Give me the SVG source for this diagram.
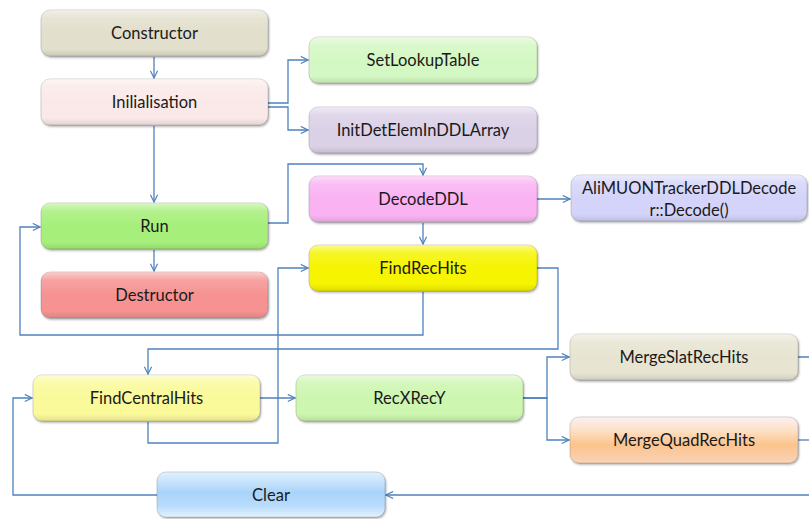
<svg xmlns="http://www.w3.org/2000/svg" width="809" height="519" viewBox="0 0 809 519">
  <style>
    .box { stroke: #000; stroke-opacity: 0.14; stroke-width: 1; filter: url(#shadow); }
    .gloss { fill: url(#gloss); stroke: none; }
    .label { font-family: Lato, "Open Sans", "Liberation Sans", sans-serif; font-size: 16.5px; fill: #1a1a1a; text-anchor: middle; dominant-baseline: central; }
    .wire { fill: none; stroke: #4f81bd; stroke-width: 1.3; }
    .arrow { marker-end: url(#head); }
  </style>
  <defs>
    <filter id="shadow" x="-5%" y="-15%" width="112%" height="140%">
      <feDropShadow dx="1" dy="1.5" stdDeviation="1.2" flood-color="#000" flood-opacity="0.35"/>
    </filter>
    <linearGradient id="gloss" x1="0" y1="0" x2="0" y2="1">
      <stop offset="0" stop-color="#fff" stop-opacity="0.55"/>
      <stop offset="0.18" stop-color="#fff" stop-opacity="0.15"/>
      <stop offset="0.5" stop-color="#fff" stop-opacity="0"/>
      <stop offset="0.85" stop-color="#000" stop-opacity="0"/>
      <stop offset="1" stop-color="#000" stop-opacity="0.1"/>
    </linearGradient>
    <linearGradient id="quadFill" x1="0" y1="0" x2="0" y2="1">
      <stop offset="0" stop-color="#fdf0f2"/>
      <stop offset="0.3" stop-color="#fde0c4"/>
      <stop offset="0.6" stop-color="#fcc48e"/>
      <stop offset="1" stop-color="#f9d2b6"/>
    </linearGradient>
    <linearGradient id="clearFill" x1="0" y1="0" x2="0" y2="1">
      <stop offset="0" stop-color="#e2f1fe"/>
      <stop offset="0.45" stop-color="#a9d4fa"/>
      <stop offset="0.75" stop-color="#b8dcfb"/>
      <stop offset="1" stop-color="#e4f1fd"/>
    </linearGradient>
    <marker id="head" viewBox="0 0 10 10" refX="9" refY="5" markerWidth="9" markerHeight="9" markerUnits="userSpaceOnUse" orient="auto">
      <path d="M1,1 L9,5 L1,9" fill="none" stroke="#4f81bd" stroke-width="1.3"/>
    </marker>
  </defs>

  <!-- connectors -->
  <g id="connectors">
    <path class="wire arrow" d="M154,57 V78"/>
    <path class="wire arrow" d="M268,103 H288 V60 H308"/>
    <path class="wire arrow" d="M268,107 H288 V130 H308"/>
    <path class="wire arrow" d="M154,126 V202"/>
    <path class="wire arrow" d="M154,250 V271"/>
    <path class="wire arrow" d="M268,223 H288 V164 H423 V175"/>
    <path class="wire arrow" d="M537,199 H570"/>
    <path class="wire arrow" d="M423,223 V244"/>
    <path class="wire arrow" d="M423,292 V335 H20 V227 H40"/>
    <path class="wire arrow" d="M537,268 H558 V349 H148 V374"/>
    <path class="wire arrow" d="M148,422 V443 H278 V268 H308"/>
    <path class="wire arrow" d="M260,398 H295"/>
    <path class="wire arrow" d="M523,398 H547 V357 H569"/>
    <path class="wire arrow" d="M523,398 H547 V440 H569"/>
    <path class="wire" d="M798,357 H815 V495"/>
    <path class="wire" d="M798,440 H815"/>
    <path class="wire arrow" d="M815,495 H386"/>
    <path class="wire arrow" d="M157,495 H13 V398 H32"/>
  </g>

  <!-- nodes -->
  <g id="constructor">
    <rect class="box" x="41" y="10" width="227" height="46" rx="9" fill="#e2dfcc"/>
    <rect class="gloss" x="41" y="10" width="227" height="46" rx="9"/>
    <text class="label" x="154.5" y="33">Constructor</text>
  </g>
  <g id="initialisation">
    <rect class="box" x="41" y="79" width="227" height="46" rx="9" fill="#fbe9e9"/>
    <rect class="gloss" x="41" y="79" width="227" height="46" rx="9"/>
    <text class="label" x="154.5" y="102">Inilialisation</text>
  </g>
  <g id="setLookupTable">
    <rect class="box" x="309" y="37" width="228" height="46" rx="9" fill="#d4f8c3"/>
    <rect class="gloss" x="309" y="37" width="228" height="46" rx="9"/>
    <text class="label" x="423" y="60">SetLookupTable</text>
  </g>
  <g id="initDetElem">
    <rect class="box" x="309" y="107" width="228" height="46" rx="9" fill="#dbd1e7"/>
    <rect class="gloss" x="309" y="107" width="228" height="46" rx="9"/>
    <text class="label" x="423" y="130">InitDetElemInDDLArray</text>
  </g>
  <g id="run">
    <rect class="box" x="41" y="203" width="227" height="46" rx="9" fill="#a6ef7a"/>
    <rect class="gloss" x="41" y="203" width="227" height="46" rx="9"/>
    <text class="label" x="154.5" y="226">Run</text>
  </g>
  <g id="destructor">
    <rect class="box" x="41" y="272" width="227" height="46" rx="9" fill="#f69292"/>
    <rect class="gloss" x="41" y="272" width="227" height="46" rx="9"/>
    <text class="label" x="154.5" y="295">Destructor</text>
  </g>
  <g id="decodeDDL">
    <rect class="box" x="309" y="176" width="228" height="46" rx="9" fill="#fab2f3"/>
    <rect class="gloss" x="309" y="176" width="228" height="46" rx="9"/>
    <text class="label" x="423" y="199">DecodeDDL</text>
  </g>
  <g id="trackerDecoder">
    <rect class="box" x="571" y="175" width="236" height="46" rx="9" fill="#d4d4fa"/>
    <rect class="gloss" x="571" y="175" width="236" height="46" rx="9"/>
    <text class="label" x="689" y="188">AliMUONTrackerDDLDecode</text>
    <text class="label" x="689" y="210">r::Decode()</text>
  </g>
  <g id="findRecHits">
    <rect class="box" x="309" y="245" width="228" height="46" rx="9" fill="#f6f400"/>
    <rect class="gloss" x="309" y="245" width="228" height="46" rx="9"/>
    <text class="label" x="423" y="268">FindRecHits</text>
  </g>
  <g id="findCentralHits">
    <rect class="box" x="33" y="375" width="227" height="46" rx="9" fill="#fafa9a"/>
    <rect class="gloss" x="33" y="375" width="227" height="46" rx="9"/>
    <text class="label" x="146.5" y="398">FindCentralHits</text>
  </g>
  <g id="recXRecY">
    <rect class="box" x="296" y="375" width="227" height="46" rx="9" fill="#cdf6b0"/>
    <rect class="gloss" x="296" y="375" width="227" height="46" rx="9"/>
    <text class="label" x="409.5" y="398">RecXRecY</text>
  </g>
  <g id="mergeSlatRecHits">
    <rect class="box" x="570" y="334" width="228" height="46" rx="9" fill="#e7e4d2"/>
    <rect class="gloss" x="570" y="334" width="228" height="46" rx="9"/>
    <text class="label" x="684" y="357">MergeSlatRecHits</text>
  </g>
  <g id="mergeQuadRecHits">
    <rect class="box" x="570" y="417" width="228" height="46" rx="9" fill="url(#quadFill)"/>
    <text class="label" x="684" y="440">MergeQuadRecHits</text>
  </g>
  <g id="clear">
    <rect class="box" x="157" y="472" width="228" height="45" rx="9" fill="url(#clearFill)"/>
    <text class="label" x="271" y="495">Clear</text>
  </g>
</svg>
